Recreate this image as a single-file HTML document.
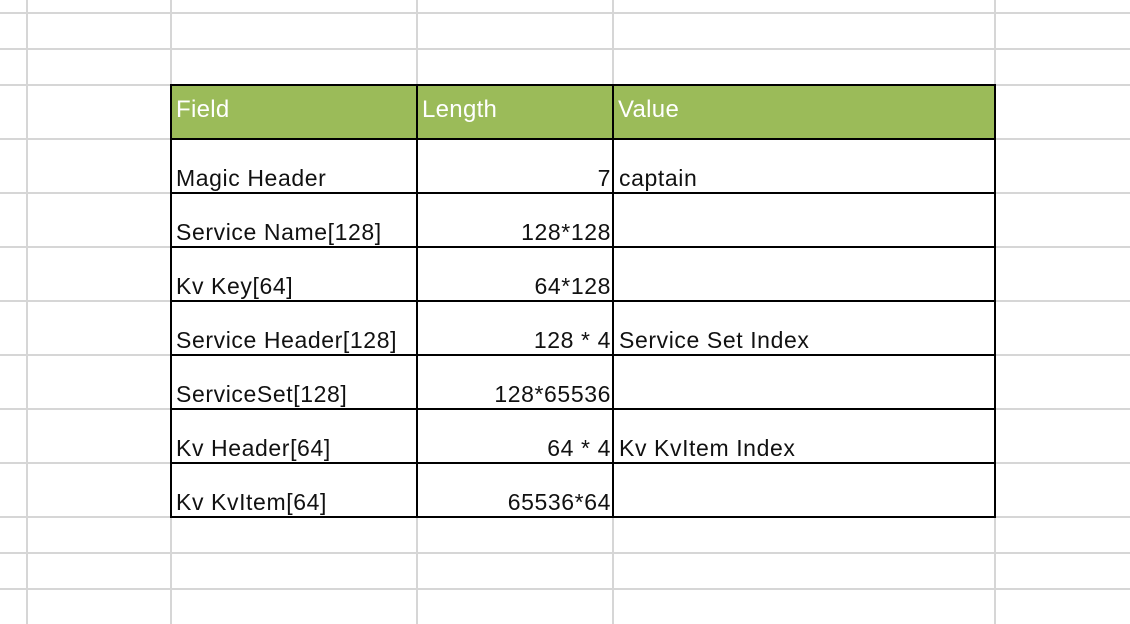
<!DOCTYPE html>
<html><head><meta charset="utf-8"><style>
body{margin:0;width:1130px;height:624px;background:#fff;position:relative;overflow:hidden;font-family:"Liberation Sans",sans-serif}
.g{position:absolute;background:#d6d6d6}
.b{position:absolute;background:#000}
.t{position:absolute;font-size:23px;letter-spacing:0.6px;color:#111;white-space:nowrap;line-height:1}
.h{position:absolute;font-size:24px;color:#fff;line-height:1;letter-spacing:0.3px}
</style></head><body>
<div>
<div class="g" style="left:26px;top:0;width:2px;height:624px"></div>
<div class="g" style="left:170px;top:0;width:2px;height:624px"></div>
<div class="g" style="left:416px;top:0;width:2px;height:624px"></div>
<div class="g" style="left:612px;top:0;width:2px;height:624px"></div>
<div class="g" style="left:994px;top:0;width:2px;height:624px"></div>
<div class="g" style="left:0;top:12px;width:1130px;height:2px"></div>
<div class="g" style="left:0;top:48px;width:1130px;height:2px"></div>
<div class="g" style="left:0;top:84px;width:1130px;height:2px"></div>
<div class="g" style="left:0;top:138px;width:1130px;height:2px"></div>
<div class="g" style="left:0;top:192px;width:1130px;height:2px"></div>
<div class="g" style="left:0;top:246px;width:1130px;height:2px"></div>
<div class="g" style="left:0;top:300px;width:1130px;height:2px"></div>
<div class="g" style="left:0;top:354px;width:1130px;height:2px"></div>
<div class="g" style="left:0;top:408px;width:1130px;height:2px"></div>
<div class="g" style="left:0;top:462px;width:1130px;height:2px"></div>
<div class="g" style="left:0;top:516px;width:1130px;height:2px"></div>
<div class="g" style="left:0;top:552px;width:1130px;height:2px"></div>
<div class="g" style="left:0;top:588px;width:1130px;height:2px"></div>
</div>
<div style="position:absolute;left:171px;top:85px;width:825px;height:54px;background:#9bbb59"></div>
<div>
<div class="b" style="left:170px;top:84px;width:2px;height:434px"></div>
<div class="b" style="left:416px;top:84px;width:2px;height:434px"></div>
<div class="b" style="left:612px;top:84px;width:2px;height:434px"></div>
<div class="b" style="left:994px;top:84px;width:2px;height:434px"></div>
<div class="b" style="left:170px;top:84px;width:826px;height:2px"></div>
<div class="b" style="left:170px;top:138px;width:826px;height:2px"></div>
<div class="b" style="left:170px;top:192px;width:826px;height:2px"></div>
<div class="b" style="left:170px;top:246px;width:826px;height:2px"></div>
<div class="b" style="left:170px;top:300px;width:826px;height:2px"></div>
<div class="b" style="left:170px;top:354px;width:826px;height:2px"></div>
<div class="b" style="left:170px;top:408px;width:826px;height:2px"></div>
<div class="b" style="left:170px;top:462px;width:826px;height:2px"></div>
<div class="b" style="left:170px;top:516px;width:826px;height:2px"></div>
</div>
<div class="h" style="left:176px;top:98px">Field</div>
<div class="h" style="left:422px;top:98px">Length</div>
<div class="h" style="left:618px;top:98px">Value</div>

<div class="t" style="left:176px;top:167px">Magic Header</div>
<div class="t" style="right:519px;top:167px">7</div>
<div class="t" style="left:619px;top:167px">captain</div>

<div class="t" style="left:176px;top:221px">Service Name[128]</div>
<div class="t" style="right:519px;top:221px">128*128</div>

<div class="t" style="left:176px;top:275px">Kv Key[64]</div>
<div class="t" style="right:519px;top:275px">64*128</div>

<div class="t" style="left:176px;top:329px">Service Header[128]</div>
<div class="t" style="right:519px;top:329px">128 * 4</div>
<div class="t" style="left:619px;top:329px">Service Set Index</div>

<div class="t" style="left:176px;top:383px">ServiceSet[128]</div>
<div class="t" style="right:519px;top:383px">128*65536</div>

<div class="t" style="left:176px;top:437px">Kv Header[64]</div>
<div class="t" style="right:519px;top:437px">64 * 4</div>
<div class="t" style="left:619px;top:437px">Kv KvItem Index</div>

<div class="t" style="left:176px;top:491px">Kv KvItem[64]</div>
<div class="t" style="right:519px;top:491px">65536*64</div>
</body></html>
